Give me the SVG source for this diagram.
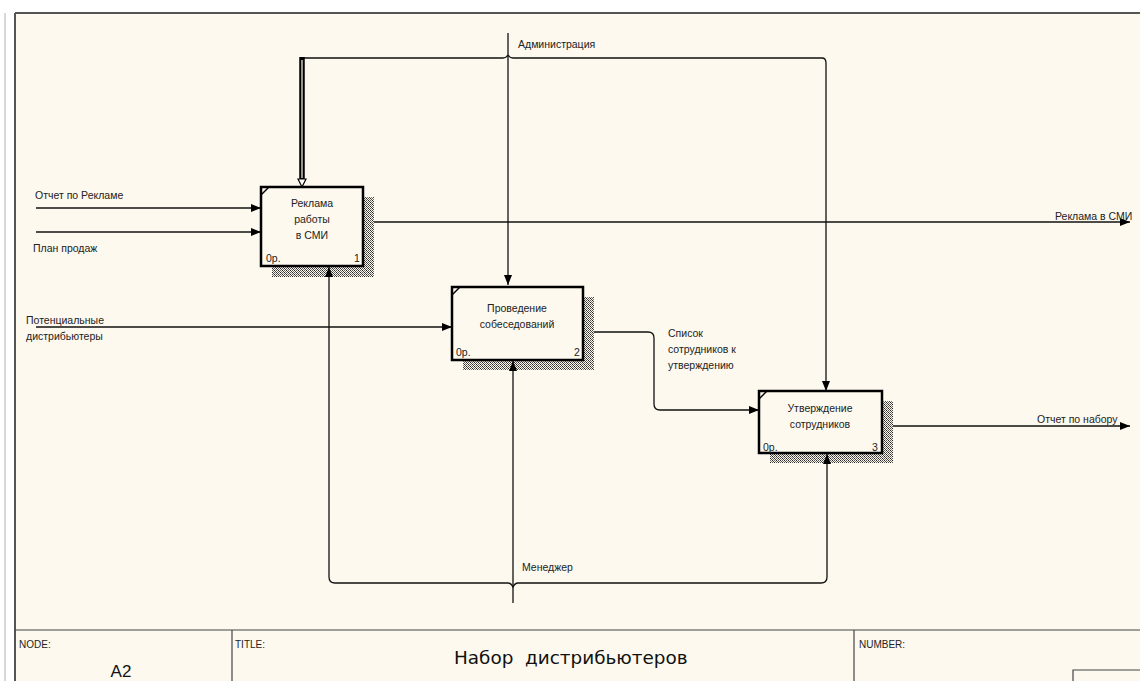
<svg xmlns="http://www.w3.org/2000/svg" width="1140" height="681" viewBox="0 0 1140 681">
<defs>
<pattern id="hatch" width="4" height="4" patternUnits="userSpaceOnUse">
<rect width="4" height="4" fill="#fdf9ef"/>
<rect x="0" y="0" width="1" height="1" fill="#222"/>
<rect x="1" y="1" width="1" height="1" fill="#444"/>
<rect x="2" y="2" width="1" height="1" fill="#222"/>
<rect x="3" y="3" width="1" height="1" fill="#444"/>
<rect x="2" y="0" width="1" height="1" fill="#555"/>
<rect x="0" y="2" width="1" height="1" fill="#555"/>
<rect x="3" y="1" width="1" height="1" fill="#777"/>
<rect x="1" y="3" width="1" height="1" fill="#777"/>
</pattern>
<marker id="ah" viewBox="0 0 10 8" refX="10" refY="4" markerWidth="10" markerHeight="8" markerUnits="userSpaceOnUse" orient="auto">
<path d="M0,0 L10,4 L0,8 Z" fill="#000"/>
</marker>
</defs>
<style>
.bg{fill:#fdf9ef}
.box{fill:#fdf9ef;stroke:#000;stroke-width:2.5}
.sh{fill:url(#hatch)}
.ln{fill:none;stroke:#111;stroke-width:1.3}
.t{font-family:"Liberation Sans",Arial,sans-serif;font-size:10.5px;fill:#222}
.tc{font-family:"Liberation Sans",Arial,sans-serif;font-size:10.5px;fill:#222;text-anchor:middle}
.f{font-family:"Liberation Sans",Arial,sans-serif;font-size:10px;fill:#222}
.frame{fill:none;stroke:#444;stroke-width:1.2}
</style>
<rect width="1140" height="681" fill="#ffffff"/>
<rect x="15" y="13" width="1125" height="668" class="bg"/>
<line x1="5" y1="13" x2="5" y2="681" stroke="#d8d8d8" stroke-width="2"/>
<line x1="15" y1="13" x2="15" y2="681" stroke="#555" stroke-width="2"/>
<line x1="15" y1="13" x2="1140" y2="13" stroke="#555" stroke-width="2"/>

<g id="node1">
<rect class="sh" x="363" y="197" width="11" height="80"/>
<rect class="sh" x="272" y="266" width="102" height="11"/>
<rect class="box" x="261" y="187" width="102" height="79"/>
<line x1="261" y1="195" x2="269" y2="187" stroke="#000" stroke-width="1.5"/>
<text class="tc" x="312" y="207">Реклама</text>
<text class="tc" x="312" y="223">работы</text>
<text class="tc" x="312" y="239">в СМИ</text>
<text class="t" x="266" y="262">0р.</text>
<text class="t" x="354" y="262">1</text>
</g>

<g id="node2">
<rect class="sh" x="583" y="297" width="11" height="73"/>
<rect class="sh" x="463" y="360" width="131" height="10"/>
<rect class="box" x="452" y="287" width="131" height="73"/>
<line x1="452" y1="295" x2="460" y2="287" stroke="#000" stroke-width="1.5"/>
<text class="tc" x="517" y="312">Проведение</text>
<text class="tc" x="517" y="328">собеседований</text>
<text class="t" x="456" y="356">0р.</text>
<text class="t" x="574" y="356">2</text>
</g>

<g id="node3">
<rect class="sh" x="882" y="401" width="11" height="62"/>
<rect class="sh" x="770" y="453" width="123" height="10"/>
<rect class="box" x="759" y="391" width="123" height="62"/>
<line x1="759" y1="399" x2="767" y2="391" stroke="#000" stroke-width="1.5"/>
<text class="tc" x="820" y="412">Утверждение</text>
<text class="tc" x="820" y="428">сотрудников</text>
<text class="t" x="763" y="451">0р.</text>
<text class="t" x="872" y="451">3</text>
</g>

<g id="connectors">
<!-- Administration -->
<line class="ln" x1="508" y1="33" x2="508" y2="285" marker-end="url(#ah)"/>
<path class="ln" d="M304,58 L503,58 Q506,58 508,55"/>
<path class="ln" d="M508,55 Q510,58 513,58 L822,58 Q826,58 826,63 L826,391" marker-end="url(#ah)"/>
<!-- double control line into box 1 -->
<line x1="302" y1="57" x2="302" y2="180" stroke="#000" stroke-width="5.5"/>
<line x1="302" y1="60" x2="302" y2="178" stroke="#fdf9ef" stroke-width="1.2"/>
<path d="M298,179 L306,179 L302,187 Z" fill="#fff" stroke="#000" stroke-width="1.2"/>
<!-- inputs -->
<line class="ln" x1="36" y1="208" x2="261" y2="208" marker-end="url(#ah)"/>
<line class="ln" x1="36" y1="232" x2="261" y2="232" marker-end="url(#ah)"/>
<line class="ln" x1="36" y1="327" x2="452" y2="327" marker-end="url(#ah)"/>
<!-- outputs -->
<line class="ln" x1="374" y1="222" x2="1130" y2="222" marker-end="url(#ah)"/>
<line class="ln" x1="893" y1="426" x2="1130" y2="426" marker-end="url(#ah)"/>
<path class="ln" d="M594,332 L648,332 Q654,332 654,338 L654,404 Q654,410 660,410 L759,410" marker-end="url(#ah)"/>
<!-- Manager -->
<line class="ln" x1="513" y1="603" x2="513" y2="361" marker-end="url(#ah)"/>
<path class="ln" d="M508,583 L335,583 Q329,583 329,577 L329,267" marker-end="url(#ah)"/>
<path class="ln" d="M518,583 L821,583 Q827,583 827,577 L827,454" marker-end="url(#ah)"/>
<path class="ln" d="M508,583 Q511,583 513,587 Q515,583 518,583"/>
</g>

<g id="labels">
<text class="t" x="518" y="48">Администрация</text>
<text class="t" x="35" y="199">Отчет по Рекламе</text>
<text class="t" x="33" y="252">План продаж</text>
<text class="t" x="26" y="324">Потенциальные</text>
<text class="t" x="26" y="340">дистрибьютеры</text>
<text class="t" x="1055" y="220">Реклама в СМИ</text>
<text class="t" x="668" y="337">Список</text>
<text class="t" x="668" y="353">сотрудников к</text>
<text class="t" x="668" y="369">утверждению</text>
<text class="t" x="1037" y="423">Отчет по набору</text>
<text class="t" x="522" y="571">Менеджер</text>
</g>

<g id="footer">
<line class="frame" x1="15" y1="630" x2="1140" y2="630"/>
<line class="frame" x1="232" y1="630" x2="232" y2="681"/>
<line class="frame" x1="854" y1="630" x2="854" y2="681"/>
<path class="frame" d="M1073,681 L1073,670 L1140,670"/>
<text class="f" x="19" y="648">NODE:</text>
<text class="f" x="235" y="648">TITLE:</text>
<text class="f" x="859" y="648">NUMBER:</text>
<text x="121" y="677" font-family="'Liberation Sans',Arial,sans-serif" font-size="17" fill="#111" text-anchor="middle">A2</text>
<text x="454" y="664" font-family="'DejaVu Sans',Verdana,sans-serif" font-size="18.4" fill="#111" xml:space="preserve">Набор  дистрибьютеров</text>
</g>
</svg>
